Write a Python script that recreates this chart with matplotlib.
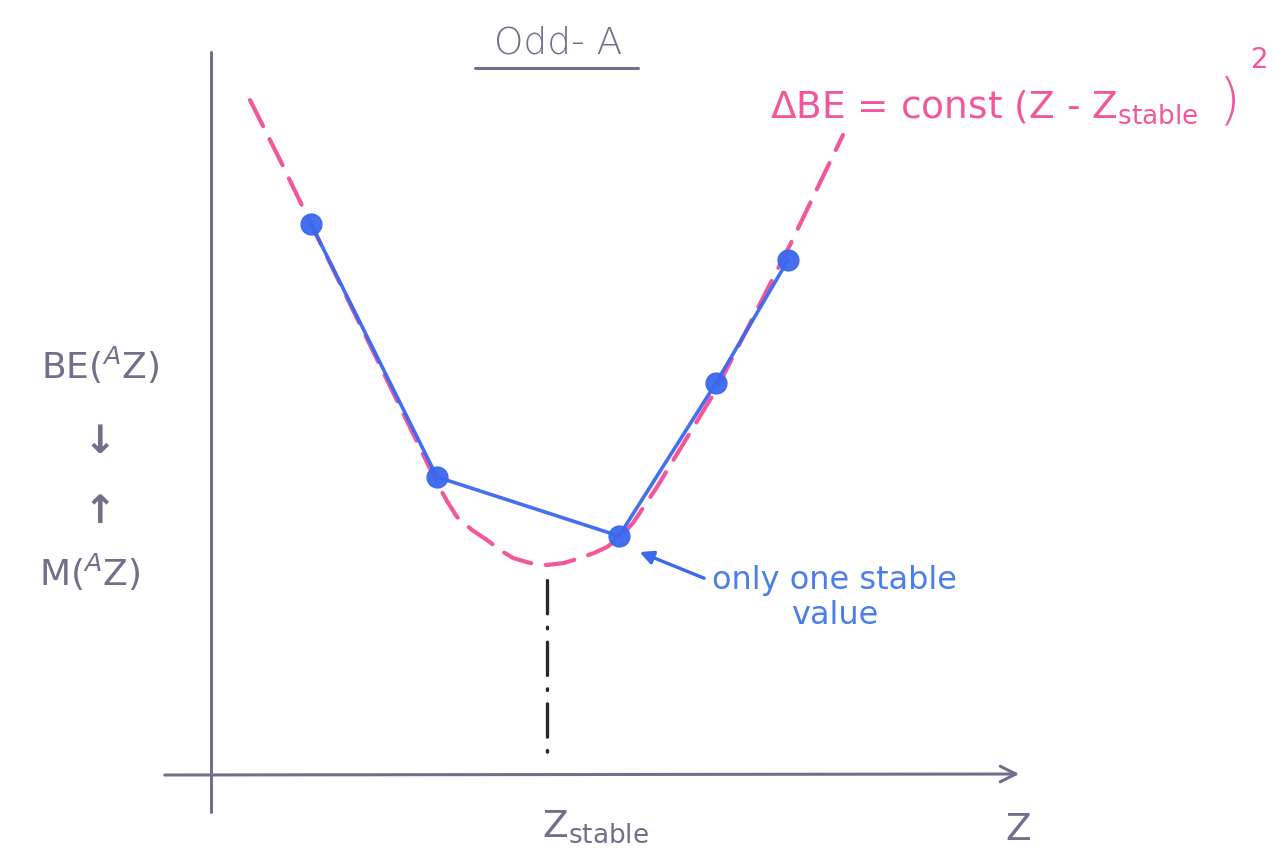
import matplotlib.pyplot as plt

plt.rcParams['font.family'] = ['DejaVu Sans']
plt.rcParams['mathtext.fontset'] = 'dejavusans'

# binding-energy points along one odd-A isobar (Z, BE in arbitrary units)
z_points = [0.99, 2.25, 4.07, 5.04, 5.76]
be_points = [5.51, 2.98, 2.39, 3.92, 5.15]

# sketched mass parabola
z_curve = [0.38, 0.68, 0.99, 1.58, 2.25, 2.35, 2.45, 2.60, 2.75, 2.88,
           3.01, 3.18, 3.35, 3.52, 3.68, 3.82, 3.95, 4.08, 4.21, 4.45,
           5.04, 5.78, 6.31]
be_curve = [6.75, 6.15, 5.51, 4.30, 2.92, 2.74, 2.58, 2.45, 2.35, 2.25,
            2.17, 2.12, 2.10, 2.12, 2.17, 2.22, 2.28, 2.38, 2.52, 2.88,
            3.85, 5.30, 6.40]

z_stable = 3.35
be_min = 2.0

GREY = '#736e8a'
PINK = '#f2579b'
BLUE = '#3a68ef'
TEXT_BLUE = '#4a7fea'

fig = plt.figure(figsize=(12.76, 8.49), dpi=100)
ax = fig.add_axes([0, 0, 1, 1])
ax.set_xlim(-2.12, 10.64)
ax.set_ylim(-0.74, 7.75)
ax.axis('off')

# hand-drawn axes
ax.plot([-0.01, -0.01], [-0.37, 7.23], color=GREY, lw=2.2, solid_capstyle='round')
ax.annotate('', xy=(8.1, 0.01), xytext=(-0.5, 0.0),
            arrowprops=dict(arrowstyle='->', color=GREY, lw=2.2,
                            mutation_scale=28))

# parabola and the isobar points
ax.plot(z_curve, be_curve, color=PINK, lw=3.0, linestyle=(0, (7, 3.5)),
        dash_capstyle='round', zorder=2)
ax.plot(z_points, be_points, color=BLUE, lw=2.6, marker='o', markersize=15,
        markerfacecolor=BLUE, markeredgecolor=BLUE, zorder=3, alpha=0.95)

# Z_stable marker
ax.plot([z_stable, z_stable], [be_min - 0.05, 0.2], color='#2b2630', lw=2.4,
        linestyle=(0, (10, 4, 0.5, 4)), dash_capstyle='round')

# texts
ax.text(3.46, 7.32, 'Odd- A', color=GREY, fontsize=27, ha='center', va='center',
        fontweight='light')
ax.plot([2.63, 4.26], [7.07, 7.07], color=GREY, lw=2.2, solid_capstyle='round')

ax.text(5.58, 6.68, r'$\Delta$BE = const (Z - Z$_{\mathrm{stable}}$',
        color=PINK, fontsize=27, ha='left', va='center')
ax.text(10.18, 6.72, ')', color=PINK, fontsize=40, ha='center', va='center',
        fontweight='light')
ax.text(10.48, 7.15, '2', color=PINK, fontsize=20, ha='center', va='center')

ax.text(-1.12, 4.1, r'BE($^{A}$Z)', color=GREY, fontsize=26, ha='center', va='center')
ax.text(-1.12, 3.33, '↓', color=GREY, fontsize=28, ha='center', va='center',
        fontweight='bold')
ax.text(-1.12, 2.63, '↑', color=GREY, fontsize=28, ha='center', va='center',
        fontweight='bold')
ax.text(-1.22, 2.03, r'M($^{A}$Z)', color=GREY, fontsize=26, ha='center', va='center')

ax.text(3.83, -0.52, r'Z$_{\mathrm{stable}}$', color=GREY, fontsize=27,
        ha='center', va='center')
ax.text(8.06, -0.55, 'Z', color=GREY, fontsize=27, ha='center', va='center')

ax.annotate('only one stable\nvalue', xy=(4.25, 2.24), xytext=(5.0, 2.1),
            color=TEXT_BLUE, fontsize=23, ha='left', va='top',
            multialignment='center', linespacing=1.15,
            arrowprops=dict(arrowstyle='-|>', color=BLUE, lw=2.4,
                            mutation_scale=20, shrinkA=4, shrinkB=2,
                            relpos=(0.0, 0.75)))

fig.savefig('out.png', dpi=100, facecolor='white')
